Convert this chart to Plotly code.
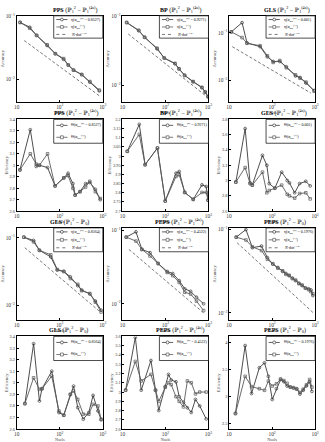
import plotly.graph_objects as go

# ---------------- data ----------------
# Row 1 : accuracy, P1^2 - P1^(4s)
pps_acc_x = [12, 20, 29, 51, 79, 123, 158, 209, 324, 501, 832]
pps_acc_a = [0.0805, 0.0676, 0.0501, 0.0347, 0.0257, 0.0209, 0.0170, 0.0141, 0.0120, 0.0091, 0.0066]
pps_acc_b = [0.0805, 0.0650, 0.0501, 0.0355, 0.0257, 0.0215, 0.0170, 0.0141, 0.0120, 0.0093, 0.0068]
pps_ref_x = [15, 840]
pps_ref_y = [0.0415, 0.0055]

bp_acc_x = [12.6, 24, 32.9, 64, 94, 167, 207, 279, 440, 705, 840, 977]
bp_acc_a = [0.0818, 0.0621, 0.0498, 0.0338, 0.0248, 0.0205, 0.0174, 0.0139, 0.0112, 0.0092, 0.0080, 0.0068]
bp_acc_b = [0.0818, 0.0630, 0.0498, 0.0345, 0.0248, 0.0208, 0.0172, 0.0139, 0.0113, 0.0093, 0.0079, 0.0068]
bp_ref_x = [13.7, 1000]
bp_ref_y = [0.0556, 0.0065]

gls_acc_x = [11.3, 20.1, 26.2, 52.7, 77.6, 106, 151, 214, 350, 447, 612, 948]
gls_acc_a = [0.1045, 0.163, 0.0612, 0.0513, 0.0314, 0.0251, 0.0251, 0.0195, 0.0125, 0.0116, 0.0089, 0.0062]
gls_acc_b = [0.1045, 0.0794, 0.0603, 0.0537, 0.0331, 0.0240, 0.0263, 0.0186, 0.0132, 0.0112, 0.0093, 0.0060]
gls_ref_x = [11.9, 794]
gls_ref_y = [0.0513, 0.0055]

# Row 2 : efficiency, P1^2 - P1^(4s)
pps_eff_x = [11.9, 20.7, 28.4, 33.7, 52.1, 77.8, 124, 156, 202, 228, 296, 398, 499, 670, 871]
pps_eff_a = [2.96, 3.31, 2.99, 3.00, 2.98, 2.82, 2.89, 2.93, 2.84, 2.74, 2.77, 2.84, 2.85, 2.79, 2.70]
pps_eff_b = [2.96, 3.10, 3.01, 3.00, 3.10, 2.82, 2.89, 2.91, 2.80, 2.74, 2.77, 2.81, 2.86, 2.77, 2.71]

bp_eff_x = [13.0, 24.7, 33.7, 65.3, 99, 176, 209, 281, 442, 706, 885, 977]
bp_eff_a = [3.026, 3.173, 2.953, 3.044, 2.755, 2.907, 2.916, 2.802, 2.764, 2.843, 2.834, 2.760]
bp_eff_b = [3.026, 3.118, 2.953, 3.044, 2.755, 2.889, 2.898, 2.802, 2.764, 2.802, 2.802, 2.760]

gls_eff_x = [14.4, 23.7, 30.8, 34.7, 59.8, 75.5, 86.1, 116, 167, 225, 253, 335, 437, 608, 767]
gls_eff_a = [2.98, 3.68, 2.97, 2.94, 3.33, 3.20, 2.96, 2.90, 3.11, 3.00, 2.97, 2.84, 2.96, 2.99, 2.93]
gls_eff_b = [2.98, 3.17, 2.96, 2.94, 3.11, 2.84, 2.87, 2.90, 2.94, 2.82, 2.80, 2.77, 2.83, 2.84, 2.76]

# Row 3 : accuracy
gls0_acc_x = [14.7, 24.7, 33.7, 61.9, 87.7, 124, 176, 262, 323, 499, 670, 916]
gls0_acc_a = [0.102, 0.0914, 0.0653, 0.0521, 0.0333, 0.0318, 0.0265, 0.0196, 0.0169, 0.0148, 0.0116, 0.0085]
gls0_acc_b = [0.102, 0.0870, 0.0653, 0.0560, 0.0340, 0.0318, 0.0250, 0.0205, 0.0165, 0.0150, 0.0112, 0.0080]
gls0_ref_x = [15.4, 916]
gls0_ref_y = [0.0714, 0.0078]

peps_acc_x = [12.3, 20.7, 28.4, 43.9, 67.6, 110, 148, 209, 281, 385, 526, 771]
peps_acc_a = [0.0813, 0.0959, 0.0553, 0.0499, 0.0355, 0.0276, 0.0259, 0.0207, 0.0160, 0.0148, 0.0123, 0.0100]
peps_acc_b = [0.0813, 0.0718, 0.0553, 0.0450, 0.0355, 0.0268, 0.0242, 0.0196, 0.0144, 0.0136, 0.0109, 0.0081]
peps_ref_x = [14.2, 841]
peps_ref_y = [0.0553, 0.0072]

peps0_acc_x = [14.7, 24.7, 34.9, 56.9, 77.8, 104, 136, 176, 209, 249, 296, 352, 420, 499, 594, 706, 798, 885]
peps0_acc_a = [0.0811, 0.1000, 0.0607, 0.0634, 0.0461, 0.0385, 0.0351, 0.0315, 0.0298, 0.0280, 0.0262,
               0.0244, 0.0227, 0.0213, 0.0200, 0.0195, 0.0189, 0.0162]
peps0_acc_b = [0.0811, 0.0750, 0.0620, 0.0560, 0.0440, 0.0390, 0.0345, 0.0320, 0.0290, 0.0283, 0.0258,
               0.0248, 0.0225, 0.0216, 0.0198, 0.0190, 0.0180, 0.0170]
peps0_ref_x = [15.4, 916]
peps0_ref_y = [0.0695, 0.0100]

# Row 4 : efficiency
gls0_eff_x = [15.5, 24.7, 33.7, 38.8, 65.3, 95.7, 124, 176, 209, 262, 352, 473, 594, 771, 916]
gls0_eff_a = [2.820, 3.337, 2.843, 2.949, 3.100, 2.743, 2.720, 2.900, 2.971, 2.786, 2.686, 2.743, 2.891, 2.757, 2.680]
gls0_eff_b = [2.820, 3.043, 2.943, 2.949, 3.057, 2.757, 2.720, 2.900, 2.929, 2.857, 2.729, 2.729, 2.814, 2.800, 2.686]

peps_eff_x = [11.9, 20.0, 27.4, 46.1, 58.9, 70.0, 99.1, 118, 136, 176, 209, 262, 323, 398, 499, 625, 885]
peps_eff_a = [3.02, 3.59, 3.02, 3.34, 3.02, 2.80, 3.06, 3.19, 3.13, 3.11, 2.95, 2.89, 2.83, 2.78, 2.92, 2.85, 2.71]
peps_eff_b = [3.02, 3.33, 3.12, 3.19, 3.02, 2.90, 3.05, 3.10, 3.08, 2.95, 2.90, 2.84, 3.12, 3.10, 2.98, 3.00, 3.00]

peps0_eff_x = [14.1, 23.7, 33.4, 50.6, 66.7, 82.0, 101, 126, 158, 188, 223, 265, 315, 374, 445, 528, 628, 746, 841]
peps0_eff_a = [2.69, 3.95, 3.06, 3.54, 3.63, 3.38, 2.95, 3.15, 3.32, 3.28, 3.20, 3.18, 3.16, 3.15, 3.05, 3.12, 3.20, 3.28, 3.10]
peps0_eff_b = [2.69, 3.38, 3.19, 3.15, 3.12, 3.29, 3.20, 3.24, 3.33, 3.30, 3.25, 3.18, 3.17, 3.14, 3.08, 3.14, 3.22, 3.32, 3.18]

alphas = {"PPS": "0.8527", "BP": "0.9271", "GLS": "0.001", "GLS0": "0.8564", "PEPS": "0.4522", "PEPS0": "0.1976"}

# ---------------- styling ----------------
W, H = 325, 442
SERIF = "Liberation Serif, DejaVu Serif, serif"
CA = "#3a3a3a"
CB = "#5a5a5a"
CREF = "#555555"

col_px = [(14, 102), (122, 210), (231, 319)]
row_px = [(13, 100), (118, 211), (228, 321), (338, 432)]
title_cx = [[74, 181, 290], [75, 181, 287], [68, 180, 288], [67, 181, 288]]

T4S = "(ℙ<sub>1</sub><sup>2</sup> − ℙ<sub>1</sub><sup>(4s)</sup>)"
T0 = "(ℙ<sub>1</sub><sup>2</sup> − ℙ<sub>0</sub>)"

panels = [
    dict(m="PPS", t=T4S, kind="acc", x=pps_acc_x, a=pps_acc_a, b=pps_acc_b, rx=pps_ref_x, ry=pps_ref_y, yr=[-2.35, -0.99], al=alphas["PPS"]),
    dict(m="BP", t=T4S, kind="acc", x=bp_acc_x, a=bp_acc_a, b=bp_acc_b, rx=bp_ref_x, ry=bp_ref_y, yr=[-2.24, -0.99], al=alphas["BP"]),
    dict(m="GLS", t=T4S, kind="acc", x=gls_acc_x, a=gls_acc_a, b=gls_acc_b, rx=gls_ref_x, ry=gls_ref_y, yr=[-2.44, -0.645], al=alphas["GLS"]),
    dict(m="PPS", t=T4S, kind="eff", x=pps_eff_x, a=pps_eff_a, b=pps_eff_b, yr=[2.6, 3.4], dt=0.1, al=alphas["PPS"]),
    dict(m="BP", t=T4S, kind="eff", x=bp_eff_x, a=bp_eff_a, b=bp_eff_b, yr=[2.7, 3.2], dt=0.05, al=alphas["BP"]),
    dict(m="GLS", t=T4S, kind="eff", x=gls_eff_x, a=gls_eff_a, b=gls_eff_b, yr=[2.6, 3.8], dt=0.2, al=alphas["GLS"]),
    dict(m="GLS", t=T0, kind="acc", x=gls0_acc_x, a=gls0_acc_a, b=gls0_acc_b, rx=gls0_ref_x, ry=gls0_ref_y, yr=[-2.21, -0.854], al=alphas["GLS0"]),
    dict(m="PEPS", t=T4S, kind="acc", x=peps_acc_x, a=peps_acc_a, b=peps_acc_b, rx=peps_ref_x, ry=peps_ref_y, yr=[-2.216, -0.964], al=alphas["PEPS"]),
    dict(m="PEPS", t=T0, kind="acc", x=peps0_acc_x, a=peps0_acc_a, b=peps0_acc_b, rx=peps0_ref_x, ry=peps0_ref_y, yr=[-2.08, -0.98], al=alphas["PEPS0"]),
    dict(m="GLS", t=T0, kind="eff", x=gls0_eff_x, a=gls0_eff_a, b=gls0_eff_b, yr=[2.6, 3.4], dt=0.1, al=alphas["GLS0"]),
    dict(m="PEPS", t=T4S, kind="eff", x=peps_eff_x, a=peps_eff_a, b=peps_eff_b, yr=[2.6, 3.6], dt=0.1, al=alphas["PEPS"]),
    dict(m="PEPS", t=T0, kind="eff", x=peps0_eff_x, a=peps0_eff_a, b=peps0_eff_b, yr=[2.4, 4.12], dt=0.5, al=alphas["PEPS0"]),
]

fig = go.Figure()
layout = dict(width=W, height=H, margin=dict(l=0, r=0, t=0, b=0),
              paper_bgcolor="white", plot_bgcolor="white", showlegend=False,
              font=dict(family=SERIF, color="black"))
annotations = []
shapes = []

for i, p in enumerate(panels):
    k = i + 1
    r, c = divmod(i, 3)
    sfx = "" if k == 1 else str(k)
    xa, ya = "x" + sfx, "y" + sfx
    x0p, x1p = col_px[c]
    y0p, y1p = row_px[r]

    sym = "η" if p["kind"] == "acc" else "Θ"
    fig.add_trace(go.Scatter(x=p["x"], y=p["a"], xaxis=xa, yaxis=ya, mode="lines+markers",
                             line=dict(color=CA, width=0.9),
                             marker=dict(symbol="circle-open", size=2.8, color=CA, line=dict(width=0.7))))
    fig.add_trace(go.Scatter(x=p["x"], y=p["b"], xaxis=xa, yaxis=ya, mode="lines+markers",
                             line=dict(color=CB, width=0.9),
                             marker=dict(symbol="square-open", size=2.6, color=CB, line=dict(width=0.7))))
    if p["kind"] == "acc":
        fig.add_trace(go.Scatter(x=p["rx"], y=p["ry"], xaxis=xa, yaxis=ya, mode="lines",
                                 line=dict(color=CREF, width=0.8, dash="3px,2px")))

    axcommon = dict(showline=True, mirror=True, linecolor="black", linewidth=0.7,
                    ticks="inside", ticklen=2, tickwidth=0.6, tickcolor="black",
                    showgrid=False, zeroline=False,
                    tickfont=dict(size=4.3, family=SERIF, color="#333"))
    layout["xaxis" + sfx] = dict(axcommon, domain=[x0p / W, x1p / W], anchor=ya, type="log",
                                 range=[1, 3], dtick=1, exponentformat="power",
                                 title=dict(text="Nsols", font=dict(size=4.2, family=SERIF, color="#444"), standoff=0))
    ydict = dict(axcommon, domain=[1 - y1p / H, 1 - y0p / H], anchor=xa,
                 title=dict(text="Accuracy" if p["kind"] == "acc" else "Efficiency",
                            font=dict(size=4.5, family=SERIF, color="#444"), standoff=1))
    if p["kind"] == "acc":
        ydict.update(type="log", range=p["yr"], dtick=1, exponentformat="power")
    else:
        ydict.update(range=p["yr"], dtick=p["dt"])
    layout["yaxis" + sfx] = ydict

    # title
    annotations.append(dict(xref="paper", yref="paper", x=title_cx[r][c] / W, y=1 - (y0p - 0.3) / H,
                            text="<b>" + p["m"] + "</b> " + p["t"], showarrow=False,
                            xanchor="center", yanchor="bottom",
                            font=dict(size=6, family=SERIF, color="black")))

    # legend box (drawn in the axis domain)
    xd, yd = xa + " domain", ya + " domain"
    lx0, lx1 = 0.43, 1.0
    ly1 = 1.0
    ly0 = 0.74
    shapes.append(dict(type="rect", xref=xd, yref=yd, x0=lx0, x1=lx1, y0=ly0, y1=ly1,
                       line=dict(color="black", width=0.7), fillcolor="white", layer="above"))
    labels = [sym + "(α<sub>opt</sub><sup>(2)</sup> = " + p["al"] + ")",
              sym + "(α<sub>opt</sub><sup>(1)</sup>)"]
    styles = [("solid", CA, "circle"), ("solid", CB, "square")]
    if p["kind"] == "acc":
        labels.append("<i>N</i>·dof<sup>−1/2</sup>")
        styles.append(("dot", CREF, None))
    n = len(labels)
    step = (ly1 - ly0) / n
    for j, (lab, st) in enumerate(zip(labels, styles)):
        yc = ly1 - step * (j + 0.5)
        shapes.append(dict(type="line", xref=xd, yref=yd, x0=lx0 + 0.03, x1=lx0 + 0.16, y0=yc, y1=yc,
                           line=dict(color=st[1], width=0.8, dash=st[0]), layer="above"))
        if st[2] == "circle":
            shapes.append(dict(type="circle", xref=xd, yref=yd, x0=lx0 + 0.078, x1=lx0 + 0.112,
                               y0=yc - 0.016, y1=yc + 0.016, line=dict(color=st[1], width=0.7),
                               fillcolor="white", layer="above"))
        elif st[2] == "square":
            shapes.append(dict(type="rect", xref=xd, yref=yd, x0=lx0 + 0.078, x1=lx0 + 0.112,
                               y0=yc - 0.016, y1=yc + 0.016, line=dict(color=st[1], width=0.7),
                               fillcolor="white", layer="above"))
        annotations.append(dict(xref=xd, yref=yd, x=lx0 + 0.18, y=yc, text=lab, showarrow=False,
                                xanchor="left", yanchor="middle",
                                font=dict(size=4, family=SERIF, color="black")))

layout["annotations"] = annotations
layout["shapes"] = shapes
fig.update_layout(**layout)
fig.write_html("out.html")
